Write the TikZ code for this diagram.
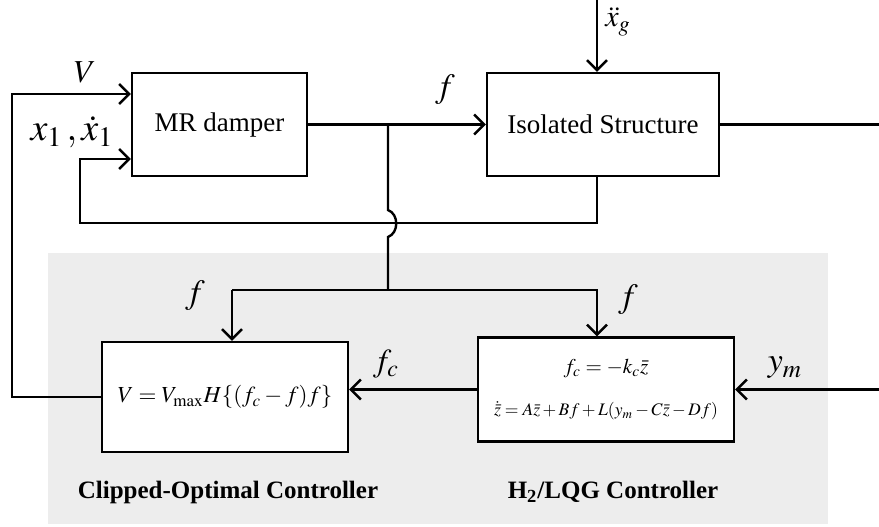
\documentclass[tikz,border=0pt]{standalone}
\usepackage{mathptmx}
\usepackage{fontspec}
\setmainfont{Liberation Serif}
\usetikzlibrary{arrows.meta}
\definecolor{panelgray}{HTML}{EDEDED}
\tikzset{
  blok/.style={draw, rectangle, fill=white, inner sep=0pt, font=\fontsize{13.5}{16}\selectfont},
  lbl/.style={inner sep=0pt, font=\fontsize{17}{20}\selectfont},
  title/.style={inner sep=0pt, font=\fontsize{12.5}{15}\selectfont\bfseries}
}
\begin{document}
\begin{tikzpicture}[x=0.5pt, y=-0.5pt, line width=1.2pt, line join=miter, >={Straight Barb[length=5pt,width=10pt,line width=1.2pt]}]
\useasboundingbox (0,0) rectangle (879,526);
%nen xam
\fill[panelgray] (48,253) rectangle (828,524);
%cac khoi
\node[blok, minimum width=87.5pt, minimum height=51.5pt] (damper) at (219.5,124.5) {MR damper};
\node[blok, minimum width=116pt, minimum height=51.5pt] (struct) at (603,124.5) {Isolated Structure};
\node[blok, minimum width=123pt, minimum height=55pt, font=\fontsize{11.5}{14}\selectfont] (clip) at (225,397)
  {$V=V_{\max}H\{(f_c-f)f\}$};
\node[blok, minimum width=128pt, minimum height=52pt, align=center] (lqg) at (606,389.5)
  {{\fontsize{10.5}{13}\selectfont $f_c=-k_c\bar{z}$}\\[5pt]
   {\fontsize{8.8}{11}\selectfont $\dot{\bar{z}}=A\bar{z}+Bf+L(y_m-C\bar{z}-Df)$}};
%cac diem noi
\coordinate (vtop) at (12,94);
\coordinate (vbot) at (12,397);
\coordinate (xtop) at (80,159);
\coordinate (xbot) at (80,223);
\coordinate (sbot) at (597,223);
\coordinate (gtop) at (597,0);
\coordinate (out) at (879,124.5);
\coordinate (ymin) at (879,389.5);
\coordinate (br) at (388,124.5);
\coordinate (ja) at (388,210);
\coordinate (jb) at (388,237);
\coordinate (bl) at (388,290);
\coordinate (fl) at (232,290);
\coordinate (fr) at (597,290);
%duong noi
\draw[->] (damper.east) -- (struct.west);
\draw[->] (gtop) -- (gtop |- struct.north);
\draw (struct.east) -- (out);
\draw[->] (clip.west) -- (vbot) -- (vtop) -- (vtop -| damper.west);
\draw[->] (sbot |- struct.south) -- (sbot) -- (xbot) -- (xtop) -- (xtop -| damper.west);
\draw (br) -- (ja) .. controls (399,214) and (399,233) .. (jb) -- (bl);
\draw[->] (fl) -- (fl |- clip.north);
\draw[->] (fl) -- (fr) -- (fr |- lqg.north);
\draw[->] (lqg.west) -- (lqg.west -| clip.east);
\draw[->] (ymin) -- (lqg.east);
%nhan
\node[lbl, font=\fontsize{16}{18}\selectfont] (lv) at (85,72) {$V$};
\node[lbl, font=\fontsize{19}{22}\selectfont] (lx) at (72,132) {$x_1\,,\dot{x}_1$};
\node[lbl] (lf) at (445,90) {$f$};
\node[lbl, font=\fontsize{15}{18}\selectfont] (lg) at (618,22) {$\ddot{x}_g$};
\node[lbl] (lfl) at (195,296) {$f$};
\node[lbl] (lfr) at (628,300) {$f$};
\node[lbl, font=\fontsize{16}{18}\selectfont] (lfc) at (386,364) {$f_c$};
\node[lbl, font=\fontsize{17}{20}\selectfont] (lym) at (785,368) {$y_m$};
\node[title] (tclip) at (228,492) {Clipped-Optimal Controller};
\node[title] (tlqg) at (613,492) {H\textsubscript{2}/LQG Controller};
\end{tikzpicture}
\end{document}
